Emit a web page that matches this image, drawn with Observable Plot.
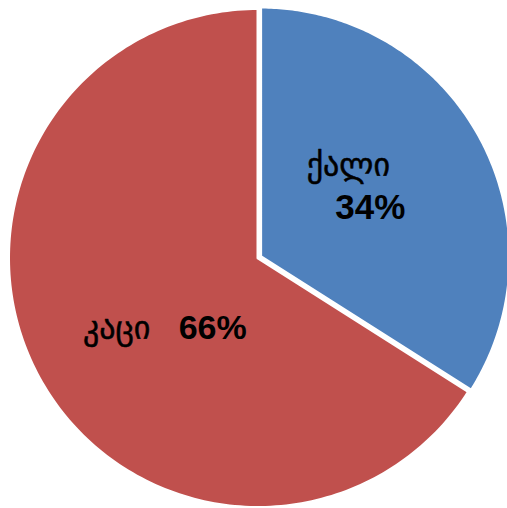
<!DOCTYPE html>
<html>
<head>
<meta charset="utf-8">
<script src="https://cdn.jsdelivr.net/npm/d3@7"></script>
<script src="https://cdn.jsdelivr.net/npm/@observablehq/plot@0.6"></script>
<style>
  html, body { margin: 0; padding: 0; background: #fff; }
</style>
</head>
<body>
<div id="chart"></div>
<script>
const categories = ["ქალი", "კაცი"];
const shares = [34, 66];
const valueLabels = ["34%", "66%"];
const colors = ["#4F81BD", "#C0504D"];
const explode = [0.012, 0];

const data = categories.map((c, i) => ({name: c, value: shares[i], label: valueLabels[i], color: colors[i], explode: explode[i]}));
const arcs = d3.pie().sort(null).value(d => d.value)(data);

// outline points for each slice, derived from pie angles
const slicePts = [];
arcs.forEach(a => {
  const mid = (a.startAngle + a.endAngle) / 2;
  const ox = a.data.explode * Math.sin(mid), oy = a.data.explode * Math.cos(mid);
  slicePts.push({name: a.data.name, x: ox, y: oy});
  const n = 200;
  for (let k = 0; k <= n; k++) {
    const t = a.startAngle + (a.endAngle - a.startAngle) * k / n;
    slicePts.push({name: a.data.name, x: ox + Math.sin(t), y: oy + Math.cos(t)});
  }
  slicePts.push({name: a.data.name, x: ox, y: oy});
});

const labelPts = arcs.map(a => {
  const mid = (a.startAngle + a.endAngle) / 2;
  return {name: a.data.name, label: a.data.label, x: 0.5 * Math.sin(mid), y: 0.5 * Math.cos(mid)};
});

const georgian = "DejaVu Sans, Noto Sans Georgian, sans-serif";
const bold = "Liberation Sans, Arial, sans-serif";

const chart = Plot.plot({
  width: 507,
  height: 508,
  margin: 0,
  x: {domain: [-1, 1], range: [8, 507], axis: null},
  y: {domain: [-1, 1], range: [507, 8], axis: null},
  color: {domain: categories, range: colors},
  marks: [
    Plot.line(slicePts, {x: "x", y: "y", z: "name", fill: "name", stroke: "white", strokeWidth: 3, curve: "linear"}),
    Plot.text(labelPts.filter(d => d.name === categories[0]), {x: "x", y: "y", text: "name", dx: -19, dy: -32, fontSize: 32, fontFamily: georgian, fill: "black", stroke: "black", strokeWidth: 0.5}),
    Plot.text(labelPts.filter(d => d.name === categories[0]), {x: "x", y: "y", text: "label", dx: 3, dy: 10, fontSize: 35, fontWeight: "bold", fontFamily: bold, fill: "black"}),
    Plot.text(labelPts.filter(d => d.name === categories[1]), {x: "x", y: "y", text: "name", dx: -32, dy: 11, fontSize: 32, fontFamily: georgian, fill: "black", stroke: "black", strokeWidth: 0.5}),
    Plot.text(labelPts.filter(d => d.name === categories[1]), {x: "x", y: "y", text: "label", dx: 64, dy: 10, fontSize: 34, fontWeight: "bold", fontFamily: bold, fill: "black"})
  ]
});
document.getElementById("chart").appendChild(chart);
</script>
</body>
</html>
